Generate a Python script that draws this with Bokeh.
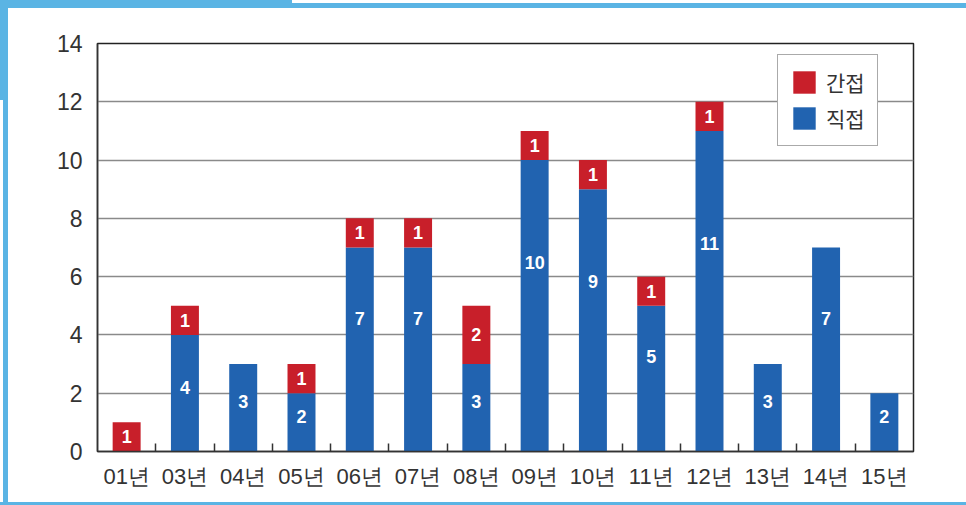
from bokeh.plotting import figure
from bokeh.models import Range1d, FixedTicker, ColumnDataSource, Legend, LegendItem
from bokeh.core.properties import value
from bokeh.embed import file_html
from bokeh.resources import INLINE

# ---- data ----
years = ["01년", "03년", "04년", "05년", "06년", "07년", "08년",
         "09년", "10년", "11년", "12년", "13년", "14년", "15년"]
direct = [0, 4, 3, 2, 7, 7, 3, 10, 9, 5, 11, 3, 7, 2]      # 직접
indirect = [1, 1, 0, 1, 1, 1, 2, 1, 1, 1, 1, 0, 0, 0]       # 간접
y_ticks = [0, 2, 4, 6, 8, 10, 12, 14]

RED = "#c81f2a"
BLUE = "#2163b0"
FRAME = "#5ab4e4"
NUM_FONT = "'Liberation Sans Narrow', 'Arial Narrow', 'Liberation Sans', sans-serif"
KR_FONT = "'Noto Sans CJK KR', sans-serif"

n = len(years)
xs = [i + 0.5 for i in range(n)]

p = figure(width=966, height=505, output_backend="svg", toolbar_location=None,
           x_range=Range1d(0, n), y_range=Range1d(0, 14),
           min_border_left=97, min_border_right=53, min_border_top=43,
           min_border_bottom=54)
g = f"linear-gradient({FRAME},{FRAME})"
p.styles = {"background": (f"{g} 0 0/292px 8px no-repeat, "
                           f"{g} 0 3px/100% 5px no-repeat, "
                           f"{g} 0 0/8px 100px no-repeat, "
                           f"{g} 3px 0/5px 100% no-repeat, "
                           f"{g} 0 502px/100% 3px no-repeat, white")}
p.border_fill_alpha = 0
p.outline_line_color = "#222222"
p.outline_line_width = 1.5
p.background_fill_color = "white"

src = ColumnDataSource(dict(x=xs, direct=direct, indirect=indirect))
rs = p.vbar_stack(["direct", "indirect"], x="x", width=0.48, source=src,
                  color=[BLUE, RED], line_color=None)

# value labels
lx, ly, lt = [], [], []
for i in range(n):
    d = direct[i]
    if d > 0:
        lx.append(xs[i]); ly.append(d * 0.65 if d >= 5 else d * 0.5 + 0.2)
        lt.append(str(d))
    if indirect[i] > 0:
        lx.append(xs[i]); ly.append(d + indirect[i] / 2); lt.append(str(indirect[i]))
p.text(x=lx, y=ly, text=lt, text_color="white", text_align="center",
       text_baseline="middle", text_font=value(NUM_FONT),
       text_font_size="18px", text_font_style="bold")

# axes
p.xgrid.visible = False
p.ygrid.grid_line_color = "#8a8a8a"
p.ygrid.grid_line_width = 1.5
p.ygrid.ticker = FixedTicker(ticks=y_ticks)

p.yaxis.ticker = FixedTicker(ticks=y_ticks)
p.yaxis.major_tick_line_color = None
p.yaxis.minor_tick_line_color = None
p.yaxis.axis_line_color = "#333333"
p.yaxis.axis_line_width = 1.5
p.yaxis.major_label_text_font = NUM_FONT
p.yaxis.major_label_text_font_size = "23px"
p.yaxis.major_label_text_color = "#333333"
p.yaxis.major_label_standoff = 9

p.xaxis.ticker = FixedTicker(ticks=xs, minor_ticks=[i for i in range(1, n)])
p.xaxis.major_label_overrides = {x: y for x, y in zip(xs, years)}
p.xaxis.major_tick_line_color = None
p.xaxis.minor_tick_line_color = "#333333"
p.xaxis.minor_tick_line_width = 1.5
p.xaxis.minor_tick_in = 8
p.xaxis.minor_tick_out = 0
p.xaxis.axis_line_color = "#333333"
p.xaxis.axis_line_width = 1.5
p.xaxis.major_label_text_font = NUM_FONT
p.xaxis.major_label_text_font_size = "22px"
p.xaxis.major_label_text_color = "#333333"
p.xaxis.major_label_standoff = 6

legend = Legend(items=[LegendItem(label="간접", renderers=[rs[1]]),
                       LegendItem(label="직접", renderers=[rs[0]])],
                location=(680, 305), orientation="vertical",
                glyph_width=28, glyph_height=28, spacing=6, padding=12,
                margin=0, label_standoff=8, label_height=28,
                label_text_font=KR_FONT, label_text_font_size="21px",
                label_text_color="#333333",
                border_line_color="#555555", border_line_width=1.5,
                background_fill_color="white", background_fill_alpha=1)
p.add_layout(legend)

open("out.html", "w").write(file_html(p, INLINE))
